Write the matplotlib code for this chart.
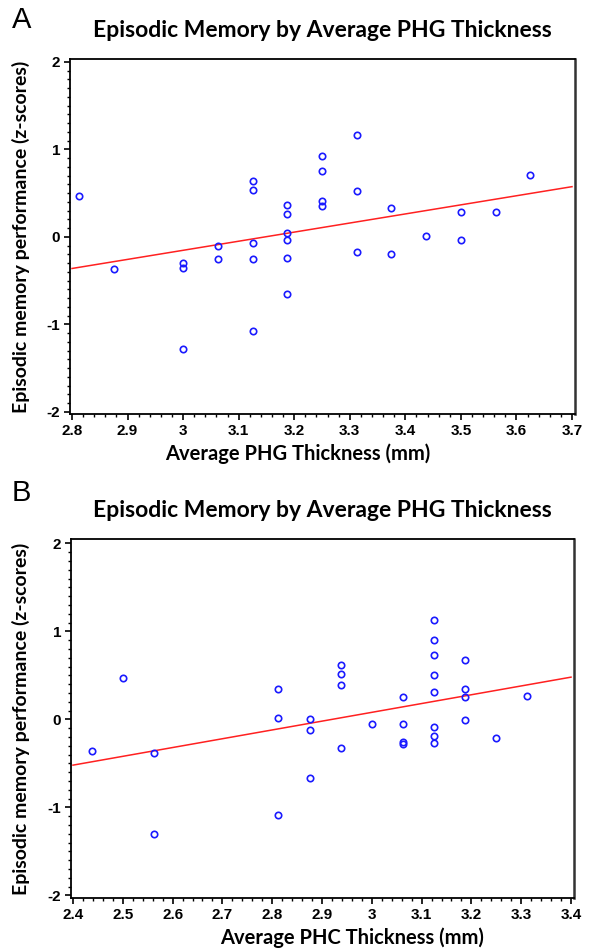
import matplotlib
matplotlib.use("Agg")
import matplotlib.pyplot as plt
from matplotlib.ticker import MultipleLocator

# ---- Panel A data: Average PHG thickness vs episodic memory ----
a_x = [2.8125, 2.875,
       3.0, 3.0, 3.0,
       3.0625, 3.0625,
       3.125, 3.125, 3.125, 3.125, 3.125,
       3.1875, 3.1875, 3.1875, 3.1875, 3.1875, 3.1875,
       3.25, 3.25, 3.25, 3.25,
       3.3125, 3.3125, 3.3125,
       3.375, 3.375,
       3.4375,
       3.5, 3.5,
       3.5625,
       3.625]
a_y = [0.47, -0.37,
       -0.30, -0.36, -1.28,
       -0.10, -0.25,
       0.64, 0.54, -0.065, -0.255, -1.08,
       0.37, 0.26, 0.04, -0.03, -0.24, -0.65,
       0.93, 0.75, 0.41, 0.35,
       1.17, 0.53, -0.175,
       0.335, -0.195,
       0.01,
       0.28, -0.035,
       0.285,
       0.71]
a_fit_x = [2.8, 3.7]
a_fit_y = [-0.36, 0.575]

# ---- Panel B data: Average PHC thickness vs episodic memory ----
b_x = [2.4375, 2.5, 2.5625, 2.5625,
       2.8125, 2.8125, 2.8125,
       2.875, 2.875, 2.875,
       2.9375, 2.9375, 2.9375, 2.9375,
       3.0,
       3.0625, 3.0625, 3.0625, 3.0625,
       3.125, 3.125, 3.125, 3.125, 3.125, 3.125, 3.125, 3.125,
       3.1875, 3.1875, 3.1875, 3.1875,
       3.25, 3.3125]
b_y = [-0.365, 0.47, -0.38, -1.30,
       0.34, 0.02, -1.085,
       0.01, -0.12, -0.67,
       0.62, 0.52, 0.39, -0.32,
       -0.055,
       0.25, -0.055, -0.26, -0.275,
       1.135, 0.90, 0.73, 0.50, 0.31, -0.085, -0.19, -0.27,
       0.68, 0.34, 0.255, -0.01,
       -0.21, 0.27]
b_fit_x = [2.4, 3.4]
b_fit_y = [-0.52, 0.48]

title_text = "Episodic Memory by Average PHG Thickness"
ylabel_text = "Episodic memory performance (z-scores)"
a_xlabel = "Average PHG Thickness (mm)"
b_xlabel = "Average PHC Thickness (mm)"
a_xticks = [2.8, 2.9, 3.0, 3.1, 3.2, 3.3, 3.4, 3.5, 3.6, 3.7]
a_xticklabels = ["2.8", "2.9", "3", "3.1", "3.2", "3.3", "3.4", "3.5", "3.6", "3.7"]
b_xticks = [2.4, 2.5, 2.6, 2.7, 2.8, 2.9, 3.0, 3.1, 3.2, 3.3, 3.4]
b_xticklabels = ["2.4", "2.5", "2.6", "2.7", "2.8", "2.9", "3", "3.1", "3.2", "3.3", "3.4"]
yticks = [-2, -1, 0, 1, 2]
yticklabels = ["-2", "-1", "0", "1", "2"]

fig = plt.figure(figsize=(5.9, 9.5), dpi=100)
W, H = 590, 950

def make_axes(l, r, t, b):
    return fig.add_axes([l / W, 1 - b / H, (r - l) / W, (b - t) / H])

axA = make_axes(70, 575, 59, 414)
axB = make_axes(71, 574, 539, 898)

title_font = dict(family=["Lato", "DejaVu Sans"], weight="bold")
tick_font = dict(family=["Liberation Sans", "DejaVu Sans"], weight="bold")

def style(ax, x, y, fx, fy, xlim, ylim, xticks, xtl, xlabel, xlabel_x, xlabel_y, ylabel_x):
    ax.plot(x, y, linestyle="none", marker="o", markersize=4.6,
            markerfacecolor="none", markeredgecolor="#1a1aff",
            markeredgewidth=1.2, zorder=3)
    ax.plot(fx, fy, color="#ff2020", linewidth=1.1, zorder=2)
    ax.set_xlim(*xlim)
    ax.set_ylim(*ylim)
    ax.set_xticks(xticks)
    ax.set_xticklabels(xtl, fontsize=11, **tick_font)
    ax.set_yticks(yticks)
    ax.set_yticklabels(yticklabels, fontsize=11, **tick_font)
    ax.xaxis.set_minor_locator(MultipleLocator(0.02))
    ax.yaxis.set_minor_locator(MultipleLocator(0.1))
    ax.tick_params(which="major", direction="out", length=4, width=1.2, pad=3, color="black")
    ax.tick_params(which="minor", direction="out", length=2.5, width=1.0, color="black")
    for s in ["left", "bottom", "top"]:
        ax.spines[s].set_linewidth(1.3)
        ax.spines[s].set_color("black")
    ax.spines["right"].set_linewidth(1.8)
    ax.spines["right"].set_color("#333333")
    ax.set_xlabel(xlabel, fontsize=14.5, **title_font)
    ax.xaxis.set_label_coords(xlabel_x, xlabel_y)
    ax.set_ylabel(ylabel_text, fontsize=14, **title_font)
    ax.yaxis.set_label_coords(ylabel_x, 0.5)
    ax.set_title(title_text, fontsize=16.5, pad=16, **title_font)

style(axA, a_x, a_y, a_fit_x, a_fit_y, (2.7964, 3.7054), (-2.023, 2.034),
      a_xticks, a_xticklabels, a_xlabel, (298 - 70) / 505, -(443 - 414) / 355,
      -(70 - 30) / 505)
style(axB, b_x, b_y, b_fit_x, b_fit_y, (2.396, 3.406), (-2.03, 2.05),
      b_xticks, b_xticklabels, b_xlabel, (352 - 71) / 503, -(927 - 898) / 359,
      -(71 - 30) / 503)

fig.text(12 / W, 1 - 20 / H, "A", fontsize=21, ha="left", va="center",
         family=["Liberation Sans", "DejaVu Sans"])
fig.text(12 / W, 1 - 493 / H, "B", fontsize=21, ha="left", va="center",
         family=["Liberation Sans", "DejaVu Sans"])

fig.savefig("out.png", dpi=100, facecolor="white")
